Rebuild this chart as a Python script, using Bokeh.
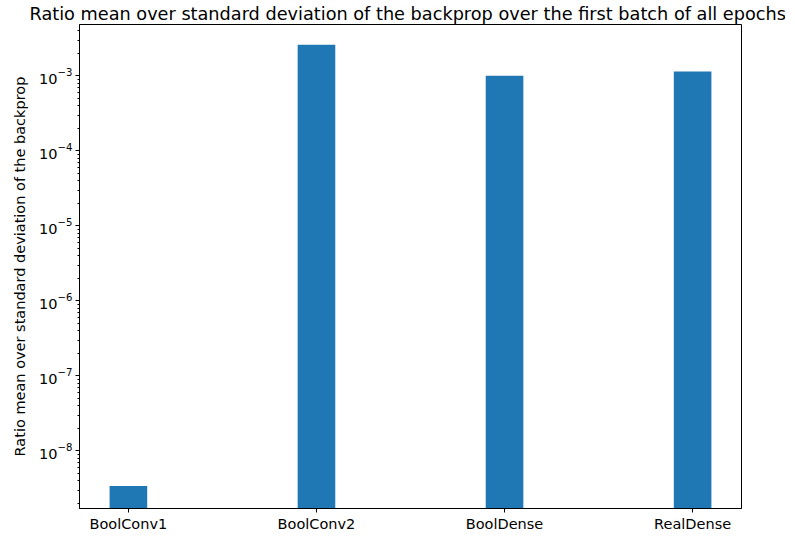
from bokeh.plotting import figure
from bokeh.models import Range1d, FixedTicker, LogTicker
from bokeh.embed import file_html
from bokeh.resources import INLINE

layers = ["BoolConv1", "BoolConv2", "BoolDense", "RealDense"]
ratios = [3.4e-9, 2.6e-3, 1.0e-3, 1.14e-3]
positions = [0, 1, 2, 3]

p = figure(
    output_backend="svg", toolbar_location=None,
    y_axis_type="log",
    frame_width=662, frame_height=484,
    min_border_left=79, min_border_right=44, min_border_top=2, min_border_bottom=0,
    x_range=Range1d(-0.26, 3.26), y_range=Range1d(1.70e-9, 4.83e-3),
    title="Ratio mean over standard deviation of the backprop over the first batch of all epochs",
)
p.vbar(x=positions, top=ratios, bottom=1e-12, width=0.2, color="#1f77b4", line_color=None)

p.title.align = "left"
p.title.offset = -50
p.title.text_font = "DejaVu Sans"
p.title.text_font_size = "17.7px"
p.title.text_font_style = "normal"
p.title.text_color = "black"
p.title.standoff = 2

p.xgrid.visible = False
p.ygrid.visible = False
p.outline_line_color = "black"
p.outline_line_width = 1

p.xaxis.ticker = FixedTicker(ticks=positions)
p.xaxis.major_label_overrides = {i: n for i, n in zip(positions, layers)}
p.xaxis.minor_tick_line_color = None

p.yaxis.ticker = LogTicker(num_minor_ticks=10)
p.yaxis.axis_label = "Ratio mean over standard deviation of the backprop"

for ax in (p.xaxis, p.yaxis):
    ax.axis_line_color = "black"
    ax.major_tick_line_color = "black"
    ax.major_tick_in = 0
    ax.major_tick_out = 4
    ax.minor_tick_in = 0
    ax.minor_tick_out = 2
    ax.major_label_text_font = "DejaVu Sans"
    ax.major_label_text_font_size = "14.5px"
    ax.major_label_text_color = "black"
    ax.major_label_standoff = 3
    ax.axis_label_text_font = "DejaVu Sans"
    ax.axis_label_text_font_size = "14.5px"
    ax.axis_label_text_font_style = "normal"
    ax.axis_label_text_color = "black"
    ax.axis_label_standoff = 8

open("out.html", "w").write(file_html(p, INLINE))
